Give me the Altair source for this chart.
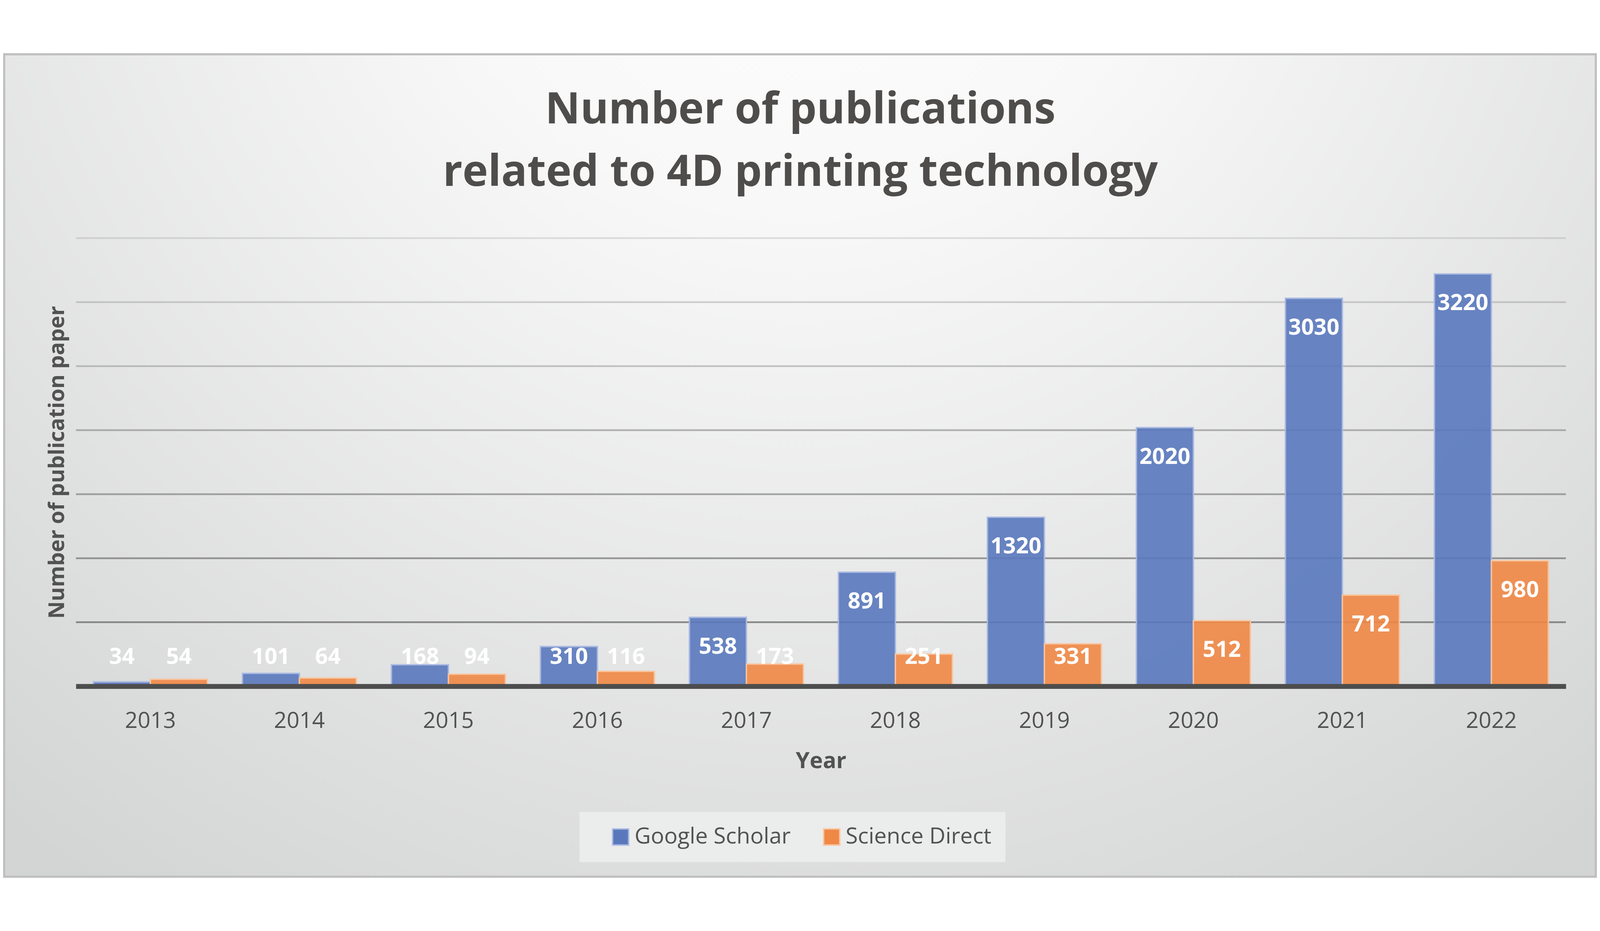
import altair as alt
import pandas as pd

years = ["2013", "2014", "2015", "2016", "2017", "2018", "2019", "2020", "2021", "2022"]
google_scholar = [34, 101, 168, 310, 538, 891, 1320, 2020, 3030, 3220]
science_direct = [54, 64, 94, 116, 173, 251, 331, 512, 712, 980]
series = ["Google Scholar", "Science Direct"]
grid_values = [500, 1000, 1500, 2000, 2500, 3000, 3500]

title_lines = ["Number of publications", "related to 4D printing technology"]
x_title = "Year"
y_title = "Number of publication paper"

rows = []
for i, yr in enumerate(years):
    rows.append({"year": yr, "source": series[0], "value": google_scholar[i]})
    rows.append({"year": yr, "source": series[1], "value": science_direct[i]})
df = pd.DataFrame(rows)
grid_df = pd.DataFrame({"g": grid_values})

W, H = 4278, 1287
PL, PT, PR, PB = 209, 531, 89, 550

FONT = "Open Sans"
DARK = "#525252"

y_scale = alt.Scale(domain=[0, 3500], nice=False)
y_axis = alt.Axis(
    title=y_title, labels=False, ticks=False, domain=False, grid=False,
    titleX=-35, titleY=H / 2, titleAngle=270, titleBaseline="alphabetic",
    titleAlign="center", titleFont=FONT, titleFontSize=62,
    titleFontWeight="bold", titleColor=DARK, zindex=1,
)
x_enc = alt.X(
    "year:N",
    sort=years,
    scale=alt.Scale(paddingInner=0.235, paddingOuter=0.1175),
    axis=alt.Axis(
        title=x_title, labelAngle=0, labelFont=FONT, labelFontSize=64,
        labelColor=DARK, labelPadding=68, ticks=False, tickSize=0,
        domainColor="#4d4d4d", domainWidth=14, grid=False,
        titleFont=FONT, titleFontSize=64, titleFontWeight="bold",
        titleColor=DARK, titleY=184, titleBaseline="top", zindex=1,
    ),
)
xoff_enc = alt.XOffset("source:N", sort=series,
                       scale=alt.Scale(paddingInner=0, paddingOuter=0))

bg_gradient = {
    "gradient": "radial",
    "x1": 0.5, "y1": 0.1, "r1": 0,
    "x2": 0.5, "y2": 0.1, "r2": 0.8,
    "stops": [
        {"offset": 0.0, "color": "#ffffff"},
        {"offset": 0.3, "color": "#f8f8f8"},
        {"offset": 1.0, "color": "#d3d4d4"},
    ],
}

bg = alt.Chart(alt.Data(values=[{"a": 1}])).mark_rect(
    color=bg_gradient, stroke="#bfbfbf", strokeWidth=6, clip=False
).encode(
    x=alt.value(-PL + 3), x2=alt.value(W + PR - 3),
    y=alt.value(-PT + 3), y2=alt.value(H + PB - 3),
)

grid = alt.Chart(grid_df).mark_rule(color="#6a6a6a", strokeWidth=5).encode(
    y=alt.Y("g:Q", scale=y_scale, axis=y_axis),
    opacity=alt.Opacity("g:Q", scale=alt.Scale(domain=[500, 3500], range=[0.75, 0.18]),
                        legend=None),
)

base = alt.Chart(df)

bars = base.mark_bar(strokeWidth=4, fillOpacity=0.9).encode(
    x=x_enc,
    xOffset=xoff_enc,
    y=alt.Y("value:Q", scale=y_scale, axis=y_axis),
    color=alt.Color(
        "source:N", sort=series,
        scale=alt.Scale(domain=series, range=["#5978BC", "#EF8745"]),
        legend=alt.Legend(
            orient="none", legendX=1446, legendY=1648, direction="horizontal",
            title=None, fillColor="#ebecec", padding=40, symbolType="square",
            symbolSize=2116, symbolStrokeWidth=4, symbolOffset=46, labelOffset=8,
            columnPadding=39, labelFont=FONT, labelFontSize=64, labelColor=DARK,
            labelLimit=2000, symbolOpacity=1,
        ),
    ),
    stroke=alt.Stroke(
        "source:N", sort=series,
        scale=alt.Scale(domain=series, range=["#A9B9E2", "#F9C49C"]),
    ),
)

labels = base.transform_calculate(
    label_y="max(datum.value - 231, 226)"
).mark_text(
    color="white", font=FONT, fontSize=64, fontWeight="bold",
    baseline="middle", align="center",
).encode(
    x=x_enc,
    xOffset=xoff_enc,
    y=alt.Y("label_y:Q", scale=y_scale, axis=y_axis),
    text=alt.Text("value:Q"),
)

chart = alt.layer(bg, grid, bars, labels).properties(
    width=W, height=H,
    autosize=alt.AutoSizeParams(type="none"),
    padding={"left": PL, "top": PT, "right": PR, "bottom": PB},
    title=alt.TitleParams(
        text=title_lines, font=FONT, fontSize=124, fontWeight="bold",
        color="#4f4d4b", lineHeight=180, anchor="middle", frame="group",
        offset=-505, dx=-59, baseline="alphabetic",
    ),
).configure_view(strokeWidth=0).configure(background="#ffffff")

chart.save("out.html", embed_options={"renderer": "svg", "actions": False})
